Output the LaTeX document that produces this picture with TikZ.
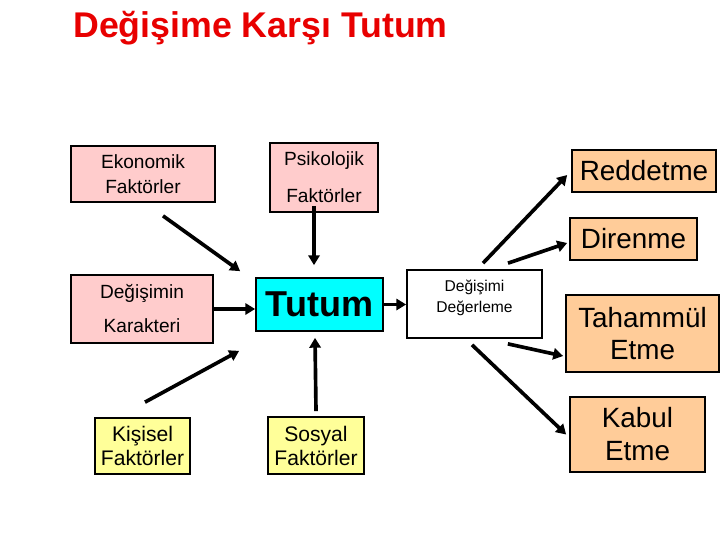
\documentclass[tikz,border=0pt]{standalone}
\usepackage{fontspec}
\setmainfont{Liberation Sans}
\usepackage{xcolor}
\usetikzlibrary{arrows.meta}
\definecolor{pembe}{RGB}{255,204,204}
\definecolor{seftali}{RGB}{255,204,153}
\definecolor{sari}{RGB}{255,255,153}
\definecolor{camgobegi}{RGB}{0,255,255}
\definecolor{baslik}{RGB}{232,0,0}
\tikzset{
  box/.style={draw=black,line width=1.2pt,inner sep=0pt,align=center},
  pbk/.style={box,fill=pembe},
  obk/.style={box,fill=seftali,font=\fontsize{19.8}{24}\selectfont},
  ybk/.style={box,fill=sari,font=\fontsize{15}{17}\selectfont},
  arr/.style={-{Triangle[length=7pt,width=8pt]},line width=2.6pt},
}

\begin{document}
\begin{tikzpicture}[x=0.025cm,y=-0.025cm]
  \useasboundingbox (0,0) rectangle (720,540);
  \node[anchor=base west,inner sep=0pt,text=baslik,font=\fontsize{25.4}{30}\selectfont\bfseries] (title) at (73,37) {Değişime Karşı Tutum};
  % faktorler
  \node[pbk,minimum width=3.6cm,minimum height=1.4cm,font=\fontsize{13.6}{17.8}\selectfont] (eko) at (143,174) {Ekonomik\\Faktörler};
  \node[pbk,minimum width=2.7cm,minimum height=1.725cm,font=\fontsize{13.6}{26.3}\selectfont] (psi) at (324,177.5) {Psikolojik\\Faktörler};
  \node[pbk,minimum width=3.55cm,minimum height=1.7cm,font=\fontsize{13.6}{24.2}\selectfont] (kar) at (142,309) {Değişimin\\Karakteri};
  \node[ybk,minimum width=2.375cm,minimum height=1.4cm] (kis) at (142.5,446) {Kişisel\\Faktörler};
  \node[ybk,minimum width=2.4cm,minimum height=1.425cm] (sos) at (316,445.5) {Sosyal\\Faktörler};
  % tutum ve degerleme
  \node[box,fill=camgobegi,minimum width=3.175cm,minimum height=1.325cm,font=\fontsize{25.6}{30}\selectfont\bfseries] (tut) at (319.5,304.5) {Tutum};
  \node[box,fill=white,minimum width=3.375cm,minimum height=1.7cm,text depth=11pt,font=\fontsize{11.1}{15}\selectfont] (deg) at (474.5,304) {Değişimi\\Değerleme};
  % sonuclar
  \node[obk,minimum width=3.6cm,minimum height=1.05cm] (red) at (644,171) {Reddetme};
  \node[obk,minimum width=3.175cm,minimum height=1.05cm] (dir) at (633.5,239) {Direnme};
  \node[obk,minimum width=3.825cm,minimum height=1.925cm,font=\fontsize{19.8}{22.8}\selectfont] (tah) at (642.5,333.5) {Tahammül\\Etme};
  \node[obk,minimum width=3.375cm,minimum height=1.875cm,font=\fontsize{19.8}{23.5}\selectfont] (kab) at (637.5,434.5) {Kabul\\Etme};
  % oklar
  \draw[arr] ([shift={(20,13)}]eko.south) -- ([shift={(-15,-6)}]tut.north west);
  \draw[arr] ([shift={(-10,-7)}]psi.south) -- ([shift={(-5.5,-12)}]tut.north);
  \draw[arr] (kar.east) -- (kar.east -| tut.west);
  \draw[arr] ([shift={(2.5,-15)}]kis.north) -- ([shift={(-16,19)}]tut.south west);
  \draw[arr] ([shift={(0,-5)}]sos.north) -- ([shift={(-4.5,6)}]tut.south);
  \draw[arr] (tut.east) -- (tut.east -| deg.west);
  \draw[arr] ([shift={(8.5,-6)}]deg.north) -- ([shift={(-4,4)}]red.west);
  \draw[arr] ([shift={(33.5,-6)}]deg.north) -- ([shift={(-2,4)}]dir.west);
  \draw[arr] ([shift={(-35,5)}]deg.south east) -- ([shift={(-2,22.5)}]tah.west);
  \draw[arr] ([shift={(-2.5,6)}]deg.south) -- ([shift={(-3,0)}]kab.west);
\end{tikzpicture}
\end{document}
